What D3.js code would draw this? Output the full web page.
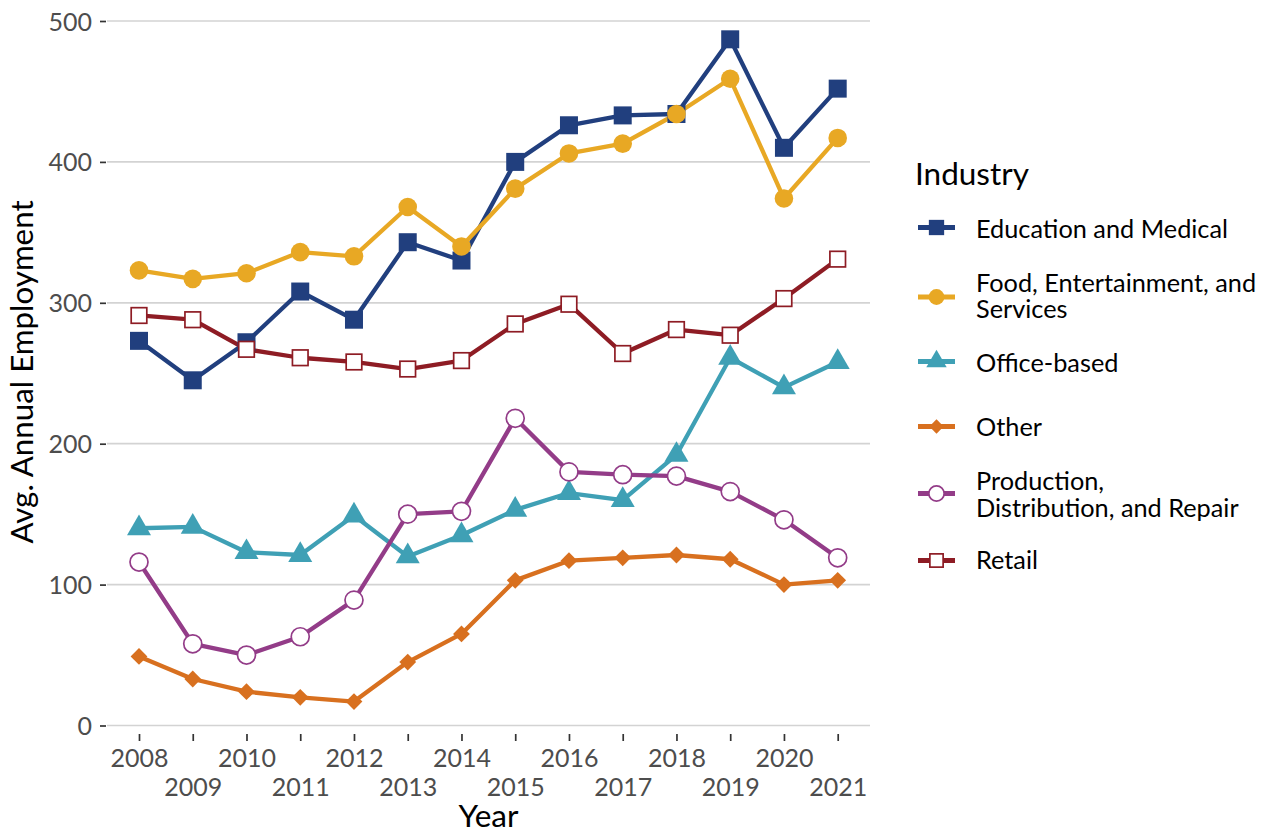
<!DOCTYPE html>
<html>
<head>
<meta charset="utf-8">
<script src="https://cdn.jsdelivr.net/npm/d3@7"></script>
<style>
  html, body { margin: 0; padding: 0; background: #fff; }
  svg { display: block; font-family: Lato, "Open Sans", sans-serif; }
</style>
</head>
<body>
<svg id="chart" width="1264" height="833"></svg>
<script>
const years = [2008, 2009, 2010, 2011, 2012, 2013, 2014, 2015, 2016, 2017, 2018, 2019, 2020, 2021];
const industries = ["Education and Medical", "Food, Entertainment, and Services", "Office-based", "Other", "Production, Distribution, and Repair", "Retail"];
const legendLines = [["Education and Medical"], ["Food, Entertainment, and", "Services"], ["Office-based"], ["Other"], ["Production,", "Distribution, and Repair"], ["Retail"]];
const educationMedical = [273, 245, 272, 308, 288, 343, 330, 400, 426, 433, 434, 487, 410, 452];
const foodEntertainment = [323, 317, 321, 336, 333, 368, 340, 381, 406, 413, 434, 459, 374, 417];
const officeBased = [140, 141, 123, 121, 149, 120, 135, 153, 165, 160, 192, 261, 240, 258];
const other = [49, 33, 24, 20, 17, 45, 65, 103, 117, 119, 121, 118, 100, 103];
const production = [116, 58, 50, 63, 89, 150, 152, 218, 180, 178, 177, 166, 146, 119];
const retail = [291, 288, 267, 261, 258, 253, 259, 285, 299, 264, 281, 277, 303, 331];
const yTicks = [0, 100, 200, 300, 400, 500];
const colors = ["#213f7e", "#e8a824", "#3fa0b5", "#d8701f", "#933c88", "#8e1c24"];
const shapes = ["square", "circle", "triangle", "diamond", "opencircle", "opensquare"];
const seriesValues = [educationMedical, foodEntertainment, officeBased, other, production, retail];

const svg = d3.select("#chart");
const x = d3.scalePoint().domain(years).range([139, 837.7]);
const y = d3.scaleLinear().domain([0, 500]).range([725.5, 21]);
const panel = { left: 107, right: 870, bottom: 733 };

// gridlines
svg.append("g").selectAll("line").data(yTicks).join("line")
  .attr("x1", panel.left).attr("x2", panel.right)
  .attr("y1", d => y(d)).attr("y2", d => y(d))
  .attr("stroke", "#d3d3d3").attr("stroke-width", 1.7);

// y axis
const yAxis = svg.append("g").attr("transform", `translate(${panel.left},0)`)
  .call(d3.axisLeft(y).tickValues(yTicks).tickSize(6).tickPadding(8).tickFormat(d3.format("d")));
yAxis.select(".domain").remove();
yAxis.selectAll(".tick line").attr("stroke", "#333").attr("stroke-width", 1.7).attr("x1", -1).attr("x2", -7);
yAxis.selectAll(".tick text").attr("font-size", 25).attr("fill", "#4d4d4d")
  .attr("font-family", "Lato").attr("dy", "0.36em").attr("x", -15);

// x axis
const xAxis = svg.append("g").attr("transform", `translate(0,${panel.bottom})`)
  .call(d3.axisBottom(x).tickSize(8).tickPadding(0));
xAxis.select(".domain").remove();
xAxis.selectAll(".tick line").attr("stroke", "#333").attr("stroke-width", 1.7).attr("y1", 1).attr("y2", 8);
xAxis.selectAll(".tick text").attr("font-size", 25).attr("fill", "#4d4d4d").attr("font-family", "Lato")
  .attr("dy", null)
  .attr("y", (d, i) => i % 2 === 0 ? 33.7 : 63);

// axis titles
svg.append("text").attr("x", (panel.left + panel.right) / 2).attr("y", 827)
  .attr("text-anchor", "middle").attr("font-size", 31.5).attr("fill", "#000").text("Year");
svg.append("text").attr("transform", "translate(32.5,372) rotate(-90)")
  .attr("text-anchor", "middle").attr("font-size", 31.3).attr("fill", "#000").text("Avg. Annual Employment");

// lines
const line = d3.line().x((d, i) => x(years[i])).y(d => y(d));
svg.append("g").selectAll("path").data(seriesValues).join("path")
  .attr("d", d => line(d)).attr("fill", "none")
  .attr("stroke", (d, i) => colors[i]).attr("stroke-width", 4.3).attr("stroke-linejoin", "round");

function drawMarker(g, shape, color, s) {
  if (shape === "square") {
    g.append("rect").attr("x", -9 * s).attr("y", -9 * s).attr("width", 18 * s).attr("height", 18 * s).attr("fill", color);
  } else if (shape === "circle") {
    g.append("circle").attr("r", 9.3 * s).attr("fill", color);
  } else if (shape === "triangle") {
    const w = 12 * s, top = 13.8 * s, bot = 6.9 * s;
    g.append("path").attr("d", `M0,${-top}L${w},${bot}L${-w},${bot}Z`).attr("fill", color);
  } else if (shape === "diamond") {
    const r = 8.4 * s;
    g.append("path").attr("d", `M0,${-r}L${r},0L0,${r}L${-r},0Z`).attr("fill", color);
  } else if (shape === "opencircle") {
    g.append("circle").attr("r", 9 * s).attr("fill", "#fff").attr("stroke", color).attr("stroke-width", 1.7);
  } else if (shape === "opensquare") {
    g.append("rect").attr("x", -7.8 * s).attr("y", -7.8 * s).attr("width", 15.6 * s).attr("height", 15.6 * s)
      .attr("fill", "#fff").attr("stroke", color).attr("stroke-width", 1.7);
  }
}

// points
seriesValues.forEach((vals, si) => {
  const g = svg.append("g");
  vals.forEach((v, i) => {
    const m = g.append("g").attr("transform", `translate(${x(years[i])},${y(v)})`);
    drawMarker(m, shapes[si], colors[si], 1);
  });
});

// legend
const lg = svg.append("g");
lg.append("text").attr("x", 915).attr("y", 185).attr("font-size", 31.5).attr("fill", "#000").text("Industry");
const keyCenters = [227.5, 297, 361.5, 426.5, 493.5, 560.5];
const labelBaselines = [[238.3], [291.7, 318.3], [371.7], [436], [490, 516.7], [569.3]];
industries.forEach((name, i) => {
  const cy = keyCenters[i];
  lg.append("line").attr("x1", 918).attr("x2", 955).attr("y1", cy).attr("y2", cy)
    .attr("stroke", colors[i]).attr("stroke-width", 5);
  const m = lg.append("g").attr("transform", `translate(936.5,${cy})`);
  drawMarker(m, shapes[i], colors[i], 0.85);
  legendLines[i].forEach((t, j) => {
    lg.append("text").attr("x", 976).attr("y", labelBaselines[i][j]).attr("font-size", 25.3)
      .attr("fill", "#000").text(t);
  });
});
</script>
</body>
</html>
